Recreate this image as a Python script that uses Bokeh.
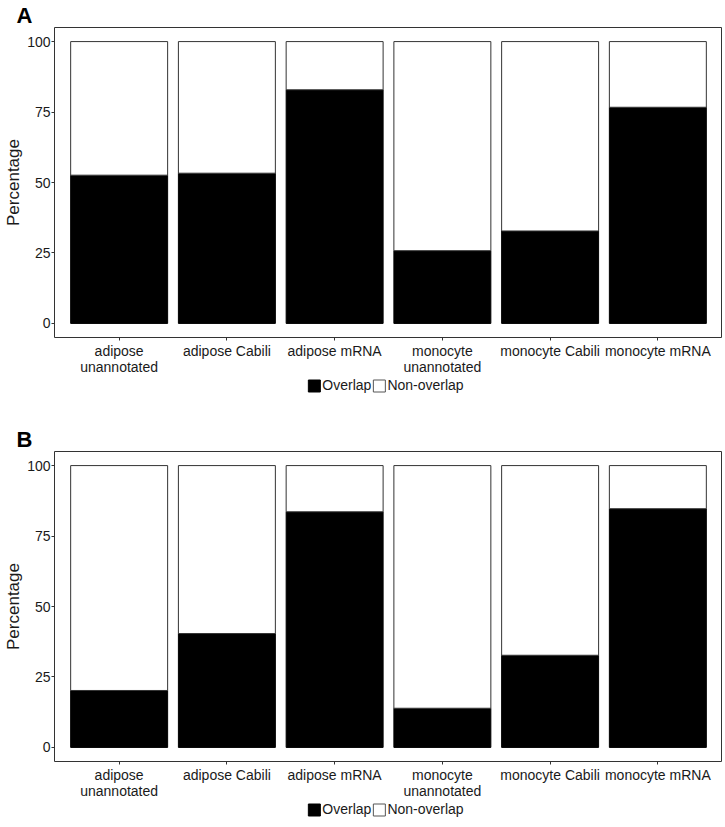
from bokeh.plotting import figure
from bokeh.models import (FactorRange, Range1d, FixedTicker, Legend, LegendItem,
                          ColumnDataSource)
from bokeh.layouts import column
from bokeh.embed import file_html
from bokeh.resources import INLINE

# ---- data ----
categories = ["adipose\nunannotated", "adipose Cabili", "adipose mRNA",
              "monocyte\nunannotated", "monocyte Cabili", "monocyte mRNA"]
overlap_a = [52.6, 53.3, 82.9, 25.8, 32.8, 76.7]
overlap_b = [20.2, 40.4, 83.6, 13.9, 32.7, 84.7]
series_labels = ["Overlap", "Non-overlap"]
series_fill = ["black", "white"]
y_ticks = [0, 25, 50, 75, 100]
panel_labels = ["A", "B"]

FONT = "Liberation Sans"
TXT = "#1a1a1a"
LINE = "#333333"
LEFT = 46
FRAME_W = 668
FRAME_H = 310
BOTTOM = 36


def make_source(overlap):
    nonoverlap = [100 - v for v in overlap]
    return ColumnDataSource(dict(cat=categories, overlap=overlap, nonoverlap=nonoverlap))


def make_panel(label, src, top_border):
    p = figure(x_range=FactorRange(factors=categories, range_padding=0.1,
                                   range_padding_units="absolute"),
               y_range=Range1d(-5, 105),
               frame_width=FRAME_W, frame_height=FRAME_H, output_backend="svg",
               toolbar_location=None, min_border_left=LEFT, min_border_right=1,
               min_border_top=top_border, min_border_bottom=BOTTOM)
    p.vbar_stack(["overlap", "nonoverlap"], x="cat", width=0.9, source=src,
                 fill_color=series_fill, line_color=["black", LINE], line_width=1)
    p.xgrid.visible = False
    p.ygrid.visible = False
    p.outline_line_color = LINE
    p.outline_line_width = 1
    p.background_fill_color = "white"
    p.border_fill_color = "white"

    p.title.text = label
    p.title.text_font = FONT
    p.title.text_font_size = "22px"
    p.title.text_font_style = "bold"
    p.title.text_color = "black"
    p.title.align = "left"
    p.title.offset = -38
    p.title.standoff = 0

    for ax in (p.xaxis[0], p.yaxis[0]):
        ax.axis_line_color = None
        ax.major_tick_line_color = LINE
        ax.major_tick_in = 0
        ax.major_tick_out = 3
        ax.minor_tick_line_color = None
        ax.major_label_text_font = FONT
        ax.major_label_text_font_size = "14px"
        ax.major_label_text_color = TXT
        ax.major_label_standoff = 1

    p.yaxis.ticker = FixedTicker(ticks=y_ticks)
    p.yaxis.axis_label = "Percentage"
    p.yaxis.axis_label_text_font = FONT
    p.yaxis.axis_label_text_font_size = "17px"
    p.yaxis.axis_label_text_font_style = "normal"
    p.yaxis.axis_label_text_color = TXT
    p.yaxis.axis_label_standoff = 1

    p.xaxis.major_label_standoff = 2
    p.xaxis.major_label_text_line_height = 1.0
    return p


def make_legend(src):
    q = figure(width=717, height=16, output_backend="svg", toolbar_location=None,
               x_range=FactorRange(factors=categories), y_range=Range1d(-5, 105),
               min_border_left=LEFT + 8, min_border_right=1,
               min_border_top=0, min_border_bottom=0)
    q.axis.visible = False
    q.xgrid.visible = False
    q.ygrid.visible = False
    q.outline_line_color = None
    rs = q.vbar_stack(["overlap", "nonoverlap"], x="cat", width=0.9, source=src,
                      fill_color=series_fill, line_color=["black", "#555555"],
                      line_width=1)
    for r in rs:
        r.visible = False
    legend = Legend(items=[LegendItem(label=series_labels[0], renderers=[rs[0]]),
                           LegendItem(label=series_labels[1], renderers=[rs[1]])],
                    orientation="horizontal", location="center",
                    spacing=0, label_standoff=1, glyph_width=15, glyph_height=15,
                    padding=0, margin=0, border_line_color=None,
                    background_fill_alpha=0, inactive_fill_alpha=0,
                    label_text_font=FONT, label_text_font_size="14px",
                    label_text_color=TXT)
    q.add_layout(legend, "center")
    return q


src_a = make_source(overlap_a)
src_b = make_source(overlap_b)
pa = make_panel(panel_labels[0], src_a, 26)
la = make_legend(src_a)
pb = make_panel(panel_labels[1], src_b, 58)
lb = make_legend(src_b)
layout = column(pa, la, pb, lb, spacing=0)

open("out.html", "w").write(file_html(layout, INLINE))
